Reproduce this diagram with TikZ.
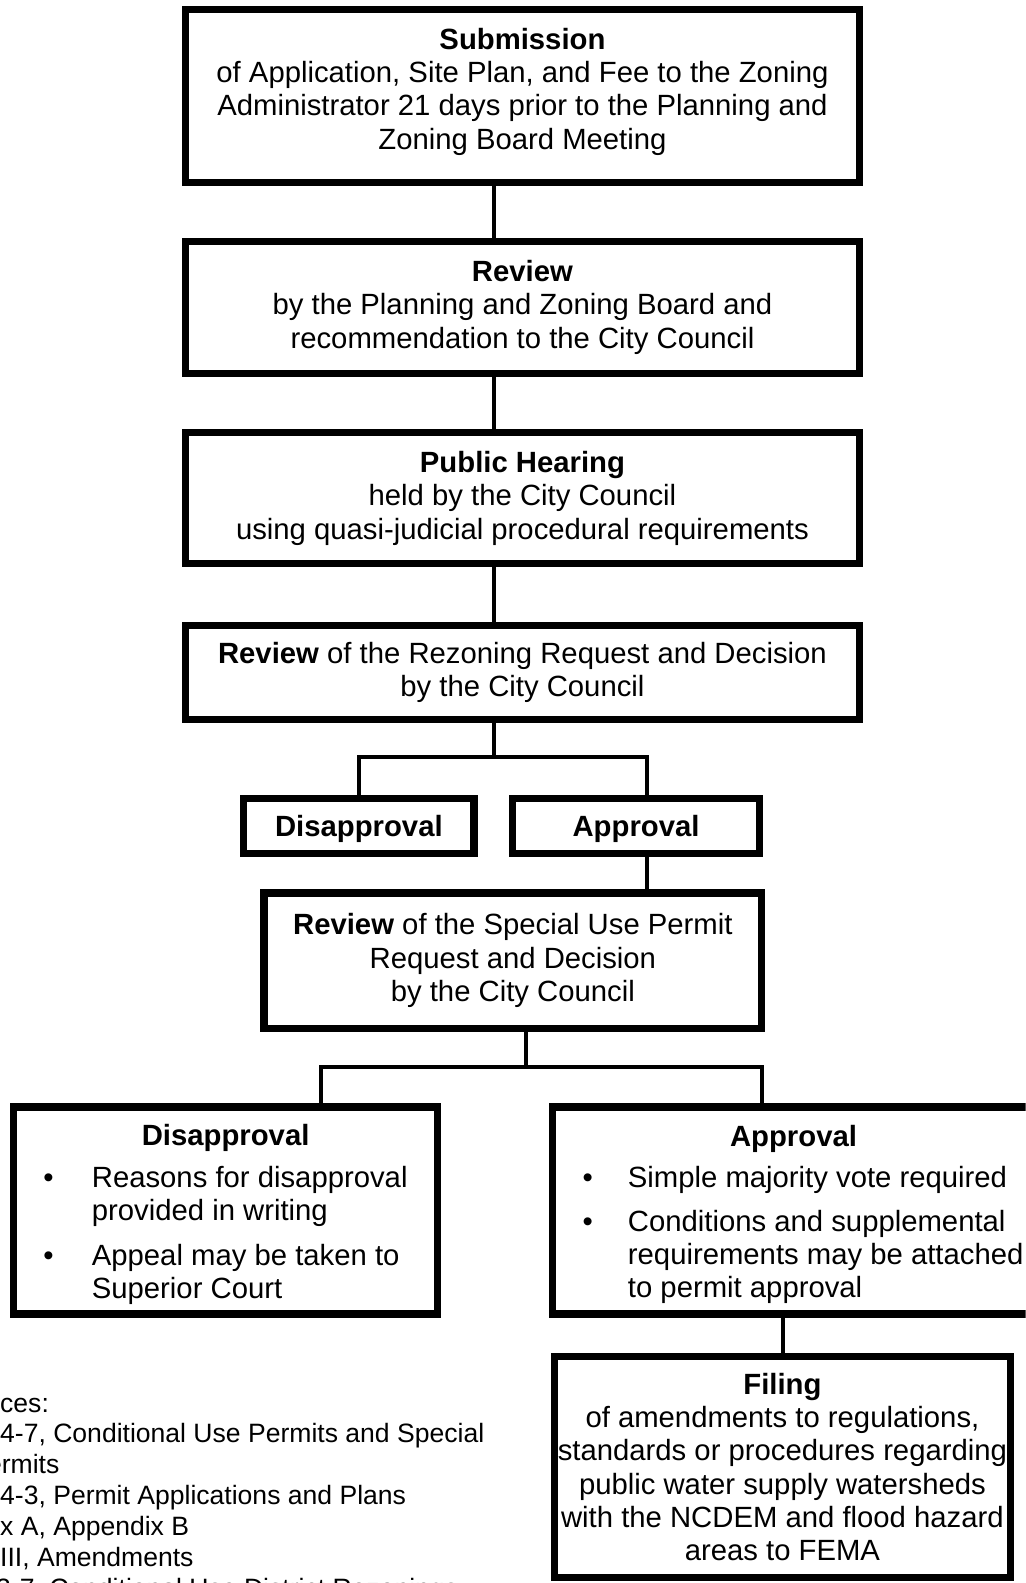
\documentclass[tikz,border=0pt]{standalone}
\usepackage{fontspec}
\setmainfont{Liberation Sans}
\newcommand\mainsz{\fontsize{29pt}{33pt}\selectfont}
\newcommand\refsz{\fontsize{26.3pt}{30.6pt}\selectfont}
\newcommand\bul[3]{\makebox[#2][l]{\hspace*{#1}\textbullet}\begin{tabular}[t]{@{}l@{}}#3\end{tabular}}
\begin{document}
\begin{tikzpicture}[x=1pt,y=-1pt,
  box/.style={draw, line width=7pt, rectangle, inner sep=0pt, align=center, font=\mainsz},
  listbox/.style={draw, line width=7pt, rectangle, inner sep=0pt, font=\mainsz},
  conn/.style={line width=4pt, line join=miter}]
\useasboundingbox (0,0) rectangle (1016,1568);
\begin{scope}
\clip (0,0) rectangle (1016,1568);
% boxes
\node[listbox, minimum width=667pt, minimum height=171pt] (B1) at (517.5,95)
  {\raisebox{0pt}[\height][\dimexpr\depth+7pt\relax]{\begin{tabular}{@{}c@{}}\textbf{Submission}\\ of Application, Site Plan, and Fee to the Zoning\\ Administrator 21 days prior to the Planning and\\ Zoning Board Meeting\end{tabular}}};
\node[box, minimum width=667pt, minimum height=130pt] (B2) at (517.5,304.5)
  {\textbf{Review}\\ by the Planning and Zoning Board and\\ recommendation to the City Council};
\node[box, minimum width=667pt, minimum height=130pt] (B3) at (517.5,493.5)
  {\textbf{Public Hearing}\\ held by the City Council\\ using quasi-judicial procedural requirements};
\node[box, minimum width=667pt, minimum height=93pt] (B4) at (517.5,666)
  {\textbf{Review} of the Rezoning Request and Decision\\ by the City Council};
\node[box, minimum width=228pt, minimum height=55pt, text depth=0pt] (D1) at (355.5,818) {\textbf{Disapproval}};
\node[box, minimum width=245pt, minimum height=55pt, text depth=0pt] (A1) at (630,818) {\textbf{Approval}};
\node[box, minimum width=493pt, minimum height=134pt] (B5) at (508,951.5)
  {\textbf{Review} of the Special Use Permit\\ Request and Decision\\ by the City Council};
\node[listbox, minimum width=420pt, minimum height=205pt] (D2) at (223.5,1199)
  {\begin{minipage}{413pt}\lineskip=0pt
   \vspace*{12pt}
   {\centering\textbf{Disapproval}\par}
   \vspace{8pt}
   \bul{26pt}{74pt}{Reasons for disapproval\\provided in writing}\par
   \vspace{11pt}
   \bul{26pt}{74pt}{Appeal may be taken to\\Superior Court}
   \end{minipage}};
\node[listbox, minimum width=477pt, minimum height=205pt] (A2) at (786,1199)
  {\begin{minipage}{470pt}\lineskip=0pt
   \vspace*{12pt}
   {\centering\textbf{Approval}\par}
   \vspace{8pt}
   \bul{26pt}{71pt}{Simple majority vote required}\par
   \vspace{10pt}
   \bul{26pt}{71pt}{Conditions and supplemental\\requirements may be attached\\to permit approval}
   \end{minipage}};
\node[box, minimum width=452pt, minimum height=219pt] (F) at (775,1453)
  {\textbf{Filing}\\ of amendments to regulations,\\ standards or procedures regarding\\ public water supply watersheds\\ with the NCDEM and flood hazard\\ areas to FEMA};
% references (cut off at the page edge, as in the source)
\node[anchor=north west, align=left, font=\refsz, inner sep=0pt] (refs) at (0,1377)
  {\strut ces:\\ 4-7, Conditional Use Permits and Special\\ \hspace*{-13pt}ermits\\ 4-3, Permit Applications and Plans\\ x A, Appendix B\\ III, Amendments\\ \hspace*{-4pt}3-7, Conditional Use District Rezonings};
% connectors
\draw[conn] ([xshift=-28.5pt]B1.south) -- ([xshift=-28.5pt]B2.north);
\draw[conn] ([xshift=-28.5pt]B2.south) -- ([xshift=-28.5pt]B3.north);
\draw[conn] ([xshift=-28.5pt]B3.south) -- ([xshift=-28.5pt]B4.north);
\coordinate (f1) at (489,750);
\draw[conn] (B4.south -| f1) -- (f1);
\draw[conn] (D1.north) |- (f1) -| ([xshift=11pt]A1.north);
\coordinate (a1c) at ([xshift=11pt]A1.south);
\draw[conn] (a1c) -- (B5.north -| a1c);
\coordinate (f2) at (521,1057);
\draw[conn] (B5.south -| f2) -- (f2);
\draw[conn] ([xshift=94.5pt]D2.north) |- (f2) -| ([xshift=-31pt]A2.north);
\coordinate (fc) at ([xshift=1pt]F.north);
\draw[conn] (A2.south -| fc) -- (fc);
\end{scope}
\end{tikzpicture}
\end{document}
